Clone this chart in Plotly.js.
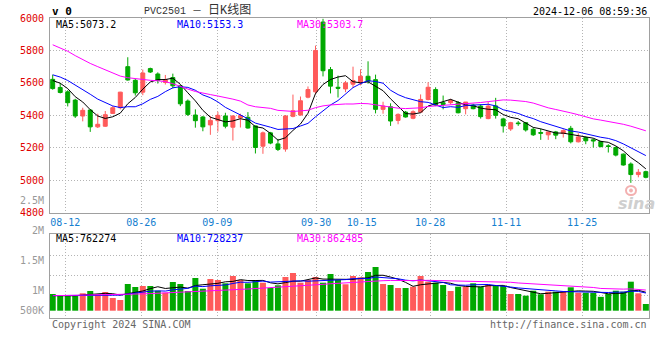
<!DOCTYPE html>
<html><head><meta charset="utf-8">
<script src="https://cdn.plot.ly/plotly-3.0.1.min.js"></script>
<style>html,body{margin:0;padding:0;background:#fff}#c{width:660px;height:360px}</style>
</head><body><div id="c"></div>
<script>
// ---- data ----
const dates = ['08-08','08-09','08-12','08-13','08-14','08-15','08-16','08-19','08-20','08-21','08-22','08-23','08-26','08-27','08-28','08-29','08-30',
'09-02','09-03','09-04','09-05','09-06','09-09','09-10','09-11','09-12','09-13','09-18','09-19','09-20','09-23','09-24','09-25','09-26','09-27','09-30',
'10-08','10-09','10-10','10-11','10-14','10-15','10-16','10-17','10-18','10-21','10-22','10-23','10-24','10-25','10-28','10-29','10-30','10-31',
'11-01','11-04','11-05','11-06','11-07','11-08','11-11','11-12','11-13','11-14','11-15','11-18','11-19','11-20','11-21','11-22','11-25','11-26','11-27','11-28','11-29',
'12-02','12-03','12-04','12-05','12-06'];
const open  = [5622,5572,5545,5494,5396,5433,5329,5333,5412,5447,5700,5616,5543,5688,5655,5603,5633,5582,5488,5402,5390,5341,5367,5396,5327,5384,5388,5335,5210,5292,5224,5192,5394,5402,5512,5545,5975,5682,5573,5563,5592,5600,5641,5620,5437,5453,5369,5420,5382,5420,5498,5559,5478,5478,5478,5441,5463,5457,5380,5458,5378,5316,5353,5355,5314,5294,5280,5298,5288,5320,5237,5263,5249,5239,5212,5202,5161,5100,5035,5053];
const high  = [5650,5600,5555,5502,5447,5437,5410,5427,5457,5545,5758,5624,5682,5694,5665,5649,5657,5586,5498,5437,5396,5396,5422,5416,5400,5410,5420,5337,5300,5298,5255,5402,5528,5516,5578,5830,5995,5698,5645,5612,5700,5684,5733,5651,5484,5474,5412,5427,5431,5529,5604,5573,5522,5502,5488,5482,5471,5467,5482,5508,5385,5360,5365,5359,5325,5318,5298,5304,5314,5335,5290,5269,5257,5243,5222,5208,5165,5110,5069,5059];
const low   = [5558,5535,5455,5384,5363,5298,5322,5329,5410,5437,5614,5522,5524,5661,5596,5590,5567,5457,5396,5324,5302,5280,5300,5320,5245,5325,5318,5165,5163,5222,5180,5176,5388,5398,5505,5530,5640,5535,5510,5543,5570,5585,5595,5412,5410,5335,5345,5386,5376,5416,5492,5457,5437,5467,5412,5406,5437,5380,5376,5380,5294,5304,5335,5300,5273,5249,5249,5253,5263,5227,5233,5222,5202,5202,5171,5147,5090,4984,5018,5012];
const close = [5565,5541,5478,5396,5431,5329,5345,5404,5447,5543,5618,5539,5661,5667,5616,5620,5582,5471,5406,5367,5329,5369,5400,5333,5396,5398,5322,5202,5292,5229,5190,5396,5428,5490,5559,5800,5675,5580,5567,5600,5615,5641,5610,5437,5457,5365,5406,5390,5422,5498,5573,5463,5467,5492,5416,5482,5441,5392,5457,5400,5335,5355,5349,5310,5280,5290,5298,5278,5306,5237,5267,5243,5243,5208,5208,5155,5094,5035,5049,5018];
const volume = [693000,610000,610000,610000,722000,818000,681000,776000,527000,444000,1108000,984000,1025000,1025000,830000,747000,1191000,1108000,818000,1357000,
913000,1316000,1274000,1137000,1440000,1274000,1137000,1274000,1162000,942000,1054000,1399000,1565000,1162000,1274000,1399000,1162000,1523000,1274000,1096000,
1440000,1386000,1606000,1814000,1108000,1067000,942000,942000,996000,1440000,1204000,1162000,1067000,818000,996000,996000,1137000,996000,1067000,1025000,
1025000,693000,693000,623000,830000,681000,789000,789000,818000,971000,747000,747000,740000,575000,693000,830000,789000,1204000,722000,278000];
// moving-average values for the first days (their inputs lie before the window)
const ma5Head  = [5615,5598,5565,5515];
const ma10Head = [5650,5636,5615,5588,5558,5530,5500,5478,5458];
const ma30Head = [5835,5815,5795,5768,5742,5720,5700,5680,5658,5642,5632,5626,5620,5616,5613,5608,5595,5577,5562,5547,5536,5528,5519,5511,5500,5488,5464,5453,5446];
const vma5Head  = [625000,622000,620000,620000];
const vma10Head = [628000,626000,625000,626000,628000,630000,633000,637000,642000];
const vma30Head = [623000,627000,631000,636000,640000,644000,648000,653000,658000,665000,673000,686000,698000,710000,722000,736000,748000,760000,772000,785000,801000,818000,834000,851000,867000,884000,900000,917000,934000];
const priceTicks = [6000,5800,5600,5400,5200,5000,4800];
const dateTickLabels = ['08-12','08-26','09-09','09-30','10-15','10-28','11-11','11-25'];
const volTickLabels = ['2.5M','2M','1.5M','1M','500K'];
const priceMaText = ['MA5:5073.2','MA10:5153.3','MA30:5303.7'];
const volMaText = ['MA5:762274','MA10:728237','MA30:862485'];
const titleText = 'PVC2501 － <span style="font-size:12px">日K线图</span>';
const stampText = '2024-12-06 08:59:36';

// ---- styles ----
const RED = '#ff5a5a', GREEN = '#00a800';
const MA_COLORS = ['#000000','#0000ff','#ff00ff'];
const MONO = 'DejaVu Sans Mono, monospace';
const FRAME = '#a0a0a0', GRID = '#b4b4b4';

function movingAvg(arr, n, head) {
  return arr.map((_, i) => {
    if (i < head.length) return head[i];
    let s = 0; for (let k = i - n + 1; k <= i; k++) s += arr[k];
    return s / n;
  });
}
const idx = dates.map((_, i) => i);
const priceMA = [movingAvg(close,5,ma5Head), movingAvg(close,10,ma10Head), movingAvg(close,30,ma30Head)];
const volMA = [movingAvg(volume,5,vma5Head), movingAvg(volume,10,vma10Head), movingAvg(volume,30,vma30Head)];

// Sina's date grid runs on a slightly wider step than the candles
const gridStep = 7.6 / 7.508, gridStart = 1.68;
const d0 = dates.indexOf(dateTickLabels[0]);
const dateTickVals = dateTickLabels.map(l => gridStart + (dates.indexOf(l) - d0) * gridStep);

// layout geometry (pixels)
const W = 660, H = 360, L = 50, R = 11, T = 18, B = 42;
const plotH = H - T - B;                 // 300
const priceBottomPx = 212.7, volTopPx = 234.3, volZeroPx = 310.7, volPerPx = 41500;
const py = px => (H - B - px) / plotH;   // pixel y -> paper y
const pxX = px => (px - L) / (W - L - R);
const volRange = [-(H - B - volZeroPx) * volPerPx, (volZeroPx - volTopPx) * volPerPx];
const volGridVals = [255.3, 275.3, 295.3].map(p => (volZeroPx - p) * volPerPx);
const volLabelPx = [200.7, 230.7, 260.7, 290.7, 310];

const traces = [
  {type:'candlestick', x: idx, open, high, low, close, xaxis:'x', yaxis:'y',
   increasing:{line:{color:RED,width:1}, fillcolor:RED},
   decreasing:{line:{color:GREEN,width:1}, fillcolor:GREEN},
   whiskerwidth:0, hoverinfo:'skip'},
  ...priceMA.map((m,k) => ({type:'scatter', mode:'lines', x: idx, y: m, xaxis:'x', yaxis:'y',
    line:{color:MA_COLORS[k], width:1}, hoverinfo:'skip'})),
  {type:'bar', x: idx, y: volume, xaxis:'x2', yaxis:'y2', width:0.8,
   marker:{color: close.map((c,i) => c >= open[i] ? RED : GREEN), line:{width:0}}, hoverinfo:'skip'},
  ...volMA.map((m,k) => ({type:'scatter', mode:'lines', x: idx, y: m, xaxis:'x2', yaxis:'y2',
    line:{color:MA_COLORS[k], width:1}, hoverinfo:'skip'}))
];

const xCommon = {range:[-0.36, 79.42], tickmode:'array', tickvals: dateTickVals, ticktext: dateTickLabels,
  showgrid:true, gridcolor:GRID, griddash:'1px,2px', gridwidth:1, zeroline:false,
  showline:true, mirror:true, linecolor:FRAME, linewidth:1, ticks:'', fixedrange:true,
  rangeslider:{visible:false}};

const annotations = [];
const ann = (text, xpx, ypx, color, anchor, extra) => annotations.push(Object.assign({
  text, xref:'paper', yref:'paper', x:pxX(xpx), y:py(ypx), xanchor:anchor, yanchor:'middle',
  showarrow:false, font:{family:MONO, size:10, color}}, extra||{}));
priceMaText.forEach((t,k) => ann(t, [54,175,295][k], 24, MA_COLORS[k], 'left'));
volMaText.forEach((t,k) => ann(t, [54,175,295][k], 238.5, MA_COLORS[k], 'left'));
volTickLabels.forEach((t,k) => ann(t, 46, volLabelPx[k], '#999999', 'right'));
ann(titleText, 197, 11, '#333333', 'center', {font:{family:'Liberation Mono, Noto Sans CJK SC, monospace', size:10, color:'#333333'}});
ann('<b>v 0</b>', 50, 12, '#000000', 'left', {font:{family:MONO, size:11, color:'#000'}});
ann(stampText, 648.5, 12, '#000000', 'right');
ann('Copyright 2024 SINA.COM', 50, 324, '#666666', 'left');
ann('http://finance.sina.com.cn', 649, 324, '#666666', 'right');
ann('<b><i>sina</i></b>', 636, 203, '#cfcfcf', 'center', {font:{family:'DejaVu Sans, sans-serif', size:16, color:'#cfcfcf'}});

// small eye mark of the sina watermark
const shapes = [
  {type:'circle', xref:'paper', yref:'paper', x0:pxX(626), x1:pxX(636), y0:py(195), y1:py(186),
   line:{color:'#f3b0b0', width:2}, fillcolor:'rgba(0,0,0,0)'},
  {type:'circle', xref:'paper', yref:'paper', x0:pxX(629.5), x1:pxX(632.5), y0:py(192), y1:py(189),
   line:{color:'#f3b0b0', width:1}, fillcolor:'#f3b0b0'}
];

const layout = {
  width: W, height: H, margin:{l:L, r:R, t:T, b:B, pad:0},
  paper_bgcolor:'#ffffff', plot_bgcolor:'#ffffff', showlegend:false, boxgap:0.25,
  xaxis: Object.assign({}, xCommon, {anchor:'y', domain:[0,1],
    tickfont:{family:MONO, size:10, color:'#1580d0'}}),
  xaxis2: Object.assign({}, xCommon, {anchor:'y2', domain:[0,1], matches:'x', showticklabels:false}),
  yaxis: {domain:[py(priceBottomPx), 1], range:[4800, 6000], tickmode:'array', tickvals: priceTicks,
    ticktext: priceTicks.map(String), tickfont:{family:MONO, size:10, color:'#e00000'},
    showgrid:true, gridcolor:GRID, griddash:'1px,2px', zeroline:false, showline:true, mirror:true,
    linecolor:FRAME, ticks:'', ticklabelstandoff:3, fixedrange:true},
  yaxis2: {domain:[0, py(volTopPx)], range: volRange, tickmode:'array', tickvals: volGridVals,
    showticklabels:false, showgrid:true, gridcolor:GRID, griddash:'1px,2px', zeroline:false,
    showline:true, mirror:true, linecolor:FRAME, ticks:'', fixedrange:true},
  annotations, shapes
};
Plotly.newPlot('c', traces, layout, {staticPlot:true, displayModeBar:false});
</script></body></html>
